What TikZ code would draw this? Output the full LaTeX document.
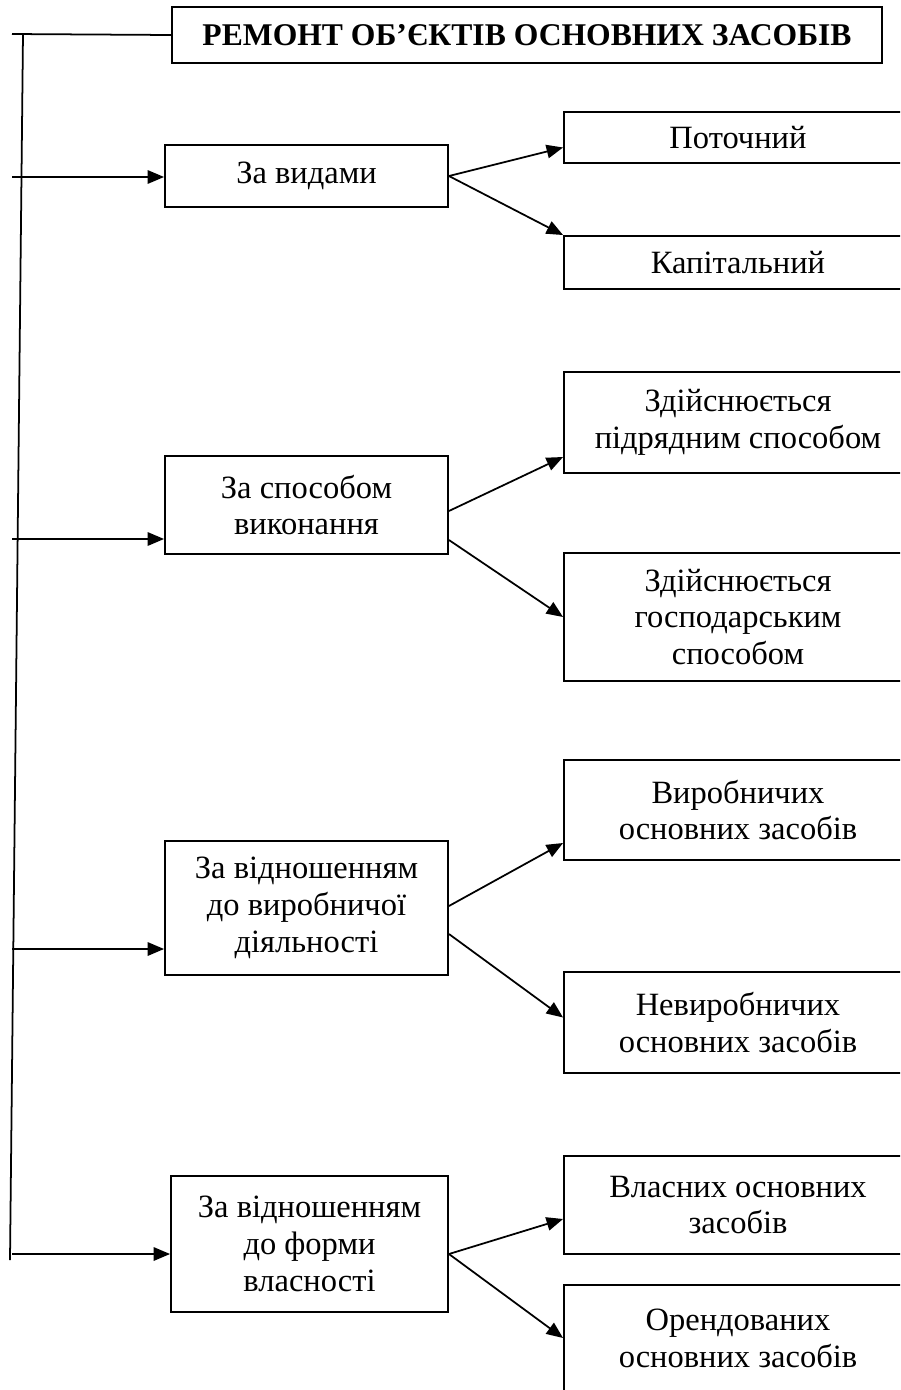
\documentclass[tikz,border=0pt]{standalone}
\usepackage{fontspec}
\setmainfont{Liberation Serif}
\usetikzlibrary{arrows.meta,calc,positioning}

\begin{document}
\begin{tikzpicture}[x=0.02cm,y=-0.02cm,line width=1pt,
	>={Triangle[length=0.33cm,width=0.27cm]},
	every node/.style={font=\fontsize{18.5}{21}\selectfont},
	vid/.style={draw,line width=1.1pt,align=center,minimum width=5.66cm},
	rez/.style={draw,line width=1.1pt,align=center,minimum width=6.96cm}]
	\clip (0,0) rectangle (900,1390);
	\node[draw,line width=1.1pt,minimum width=14.2cm,minimum height=1.12cm,font=\fontsize{18}{21}\selectfont\bfseries] (remont) at (527,35) {РЕМОНТ ОБ’ЄКТІВ ОСНОВНИХ ЗАСОБІВ};
	% ліва колонка
	\node[vid,minimum height=1.24cm] (vydy)   at (306.5,176)  {За видами};
	\node[vid,minimum height=1.96cm] (sposib) at (306.5,505)  {За способом\\виконання};
	\node[vid,minimum height=2.68cm] (vyrob)  at (306.5,908)  {За відношенням\\до виробничої\\діяльності};
	\node[vid,minimum height=2.72cm,minimum width=5.54cm] (vlasn) at (309.5,1244) {За відношенням\\до форми\\власності};
	% права колонка
	\node[rez,minimum height=1.02cm] (potoch) at (738,137.5) {Поточний};
	\node[rez,minimum height=1.06cm] (kapit)  at (738,262.5) {Капітальний};
	\node[rez,minimum height=2.02cm] (pidr)   at (738,422.5) {Здійснюється\\підрядним способом};
	\node[rez,minimum height=2.56cm] (gosp)   at (738,617)   {Здійснюється\\господарським\\способом};
	\node[rez,minimum height=2.0cm]  (vyrobn) at (738,810)   {Виробничих\\основних засобів};
	\node[rez,minimum height=2.02cm] (nevyr)  at (738,1022.5) {Невиробничих\\основних засобів};
	\node[rez,minimum height=1.96cm] (vlasni) at (738,1205)  {Власних основних\\засобів};
	\node[rez,minimum height=2.12cm] (orend)  at (738,1338)  {Орендованих\\основних засобів};
	% стовбур
	\coordinate (top) at (23,34);
	\coordinate (bot) at (10,1260);
	\coordinate (t0) at (12,34);
	\coordinate (t1) at (12,177);
	\coordinate (t2) at (12,539);
	\coordinate (t3) at (12,949);
	\coordinate (t4) at (12,1254);
	\draw (top) -- (bot);
	\draw (remont.west) -- (t0);
	\draw[->] (t1) -- (t1 -| vydy.west);
	\draw[->] (t2) -- (t2 -| sposib.west);
	\draw[->] (t3) -- (t3 -| vyrob.west);
	\draw[->] (t4) -- (t4 -| vlasn.west);
	% гілки
	\draw[->] (vydy.east) -- ($(potoch.west)+(0,10)$);
	\draw[->] (vydy.east) -- (kapit.north west);
	\draw[->] ($(sposib.east)+(0,6)$) -- ($(pidr.west)+(0,34.5)$);
	\draw[->] ($(sposib.east)+(0,35)$) -- (gosp.west);
	\draw[->] ($(vyrob.east)+(0,-2)$) -- ($(vyrobn.west)+(0,33)$);
	\draw[->] ($(vyrob.east)+(0,26)$) -- ($(nevyr.west)+(0,-5)$);
	\draw[->] ($(vlasn.east)+(0,10)$) -- ($(vlasni.west)+(0,14)$);
	\draw[->] ($(vlasn.east)+(0,10)$) -- (orend.west);
\end{tikzpicture}
\end{document}
